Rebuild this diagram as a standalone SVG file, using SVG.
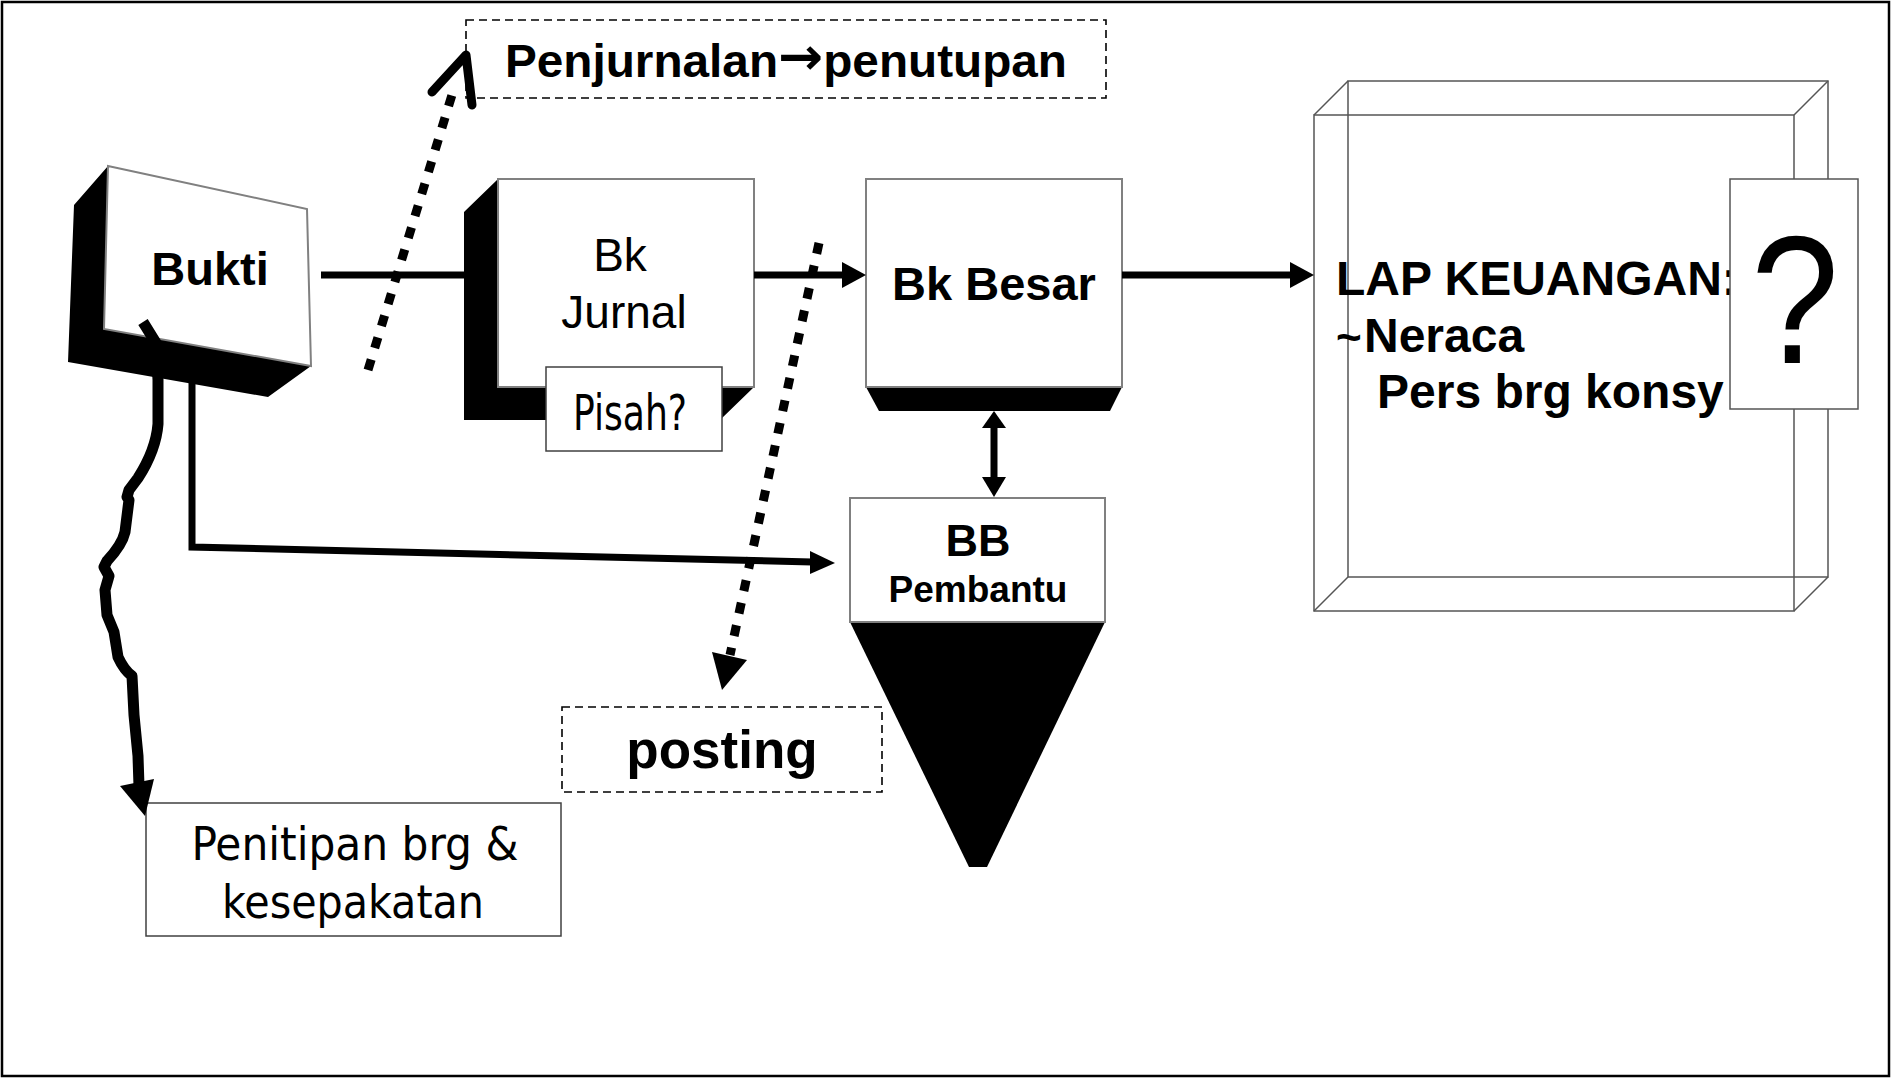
<svg xmlns="http://www.w3.org/2000/svg" width="1891" height="1078" viewBox="0 0 1891 1078">
<style>
.face{fill:#fff;stroke:#808080;stroke-width:2}
.box{fill:#fff;stroke:#404040;stroke-width:1.5}
.dash{fill:#fff;stroke:#000;stroke-width:1.6;stroke-dasharray:8 5}
.blk{fill:#000}
.wire{fill:none;stroke:#555;stroke-width:1.5}
.b{font-family:"Liberation Sans",Arial,sans-serif;font-weight:bold;fill:#000}
.r{font-family:"Liberation Sans",Arial,sans-serif;fill:#000}
.t{font-family:"DejaVu Sans Condensed","DejaVu Sans",sans-serif;fill:#000}
.ln{fill:none;stroke:#000;stroke-width:7}
.dot{fill:none;stroke:#000;stroke-width:9;stroke-dasharray:11 12}
</style>
<rect x="2" y="2" width="1887" height="1074" fill="#fff" stroke="#000" stroke-width="2.5"/>

<g id="penjurnalan">
<rect class="dash" x="466" y="20" width="640" height="78"/>
<text class="b" x="786" y="77" font-size="46" text-anchor="middle" textLength="562" lengthAdjust="spacingAndGlyphs">Penjurnalan<tspan font-family="DejaVu Sans,sans-serif" font-size="52" dy="-3">→</tspan><tspan dy="3">penutupan</tspan></text>
</g>

<g id="bukti">
<polygon class="blk" points="108,166 74,205 68,362 268,397 311,366 104,329"/>
<polygon class="face" points="108,166 307,209 311,366 104,329"/>
<text class="b" x="210" y="285" font-size="47" text-anchor="middle">Bukti</text>
</g>

<g id="bk-jurnal">
<polygon class="blk" points="498,179 464,212 464,420 720,420 754,387 498,387"/>
<rect class="face" x="498" y="179" width="256" height="208"/>
<text class="r" x="620" y="271" font-size="46" text-anchor="middle">Bk</text>
<text class="r" x="624" y="328" font-size="46" text-anchor="middle">Jurnal</text>
</g>

<g id="pisah">
<rect class="box" x="546" y="367" width="176" height="84"/>
<text class="t" x="630" y="430" font-size="50" text-anchor="middle" textLength="114" lengthAdjust="spacingAndGlyphs">Pisah?</text>
</g>

<g id="bk-besar">
<polygon class="blk" points="866,387 1122,387 1110,411 879,411"/>
<rect class="face" x="866" y="179" width="256" height="208"/>
<text class="b" x="994" y="300" font-size="47" text-anchor="middle">Bk Besar</text>
</g>

<g id="bb-pembantu">
<polygon class="blk" points="850,622 1105,622 987,867 969,867"/>
<rect class="face" x="850" y="498" width="255" height="124"/>
<text class="b" x="978" y="556" font-size="45" text-anchor="middle">BB</text>
<text class="b" x="978" y="602" font-size="37" text-anchor="middle">Pembantu</text>
</g>

<g id="lap-keuangan">
<rect class="wire" x="1348" y="81" width="480" height="496"/>
<rect class="wire" x="1314" y="115" width="480" height="496"/>
<path class="wire" d="M1314,115 L1348,81 M1794,115 L1828,81 M1794,611 L1828,577 M1314,611 L1348,577"/>
<text class="b" x="1336" y="295" font-size="48">LAP KEUANGAN:</text>
<text class="b" x="1336" y="352" font-size="44">~</text>
<text class="b" x="1364" y="352" font-size="48">Neraca</text>
<text class="b" x="1377" y="408" font-size="48">Pers brg konsy</text>
<rect x="1730" y="179" width="128" height="230" fill="#fff" stroke="#555" stroke-width="1.5"/>
<text class="r" x="1795" y="363" font-size="182" text-anchor="middle" textLength="88" lengthAdjust="spacingAndGlyphs">?</text>
</g>

<g id="posting">
<rect class="dash" x="562" y="707" width="320" height="85"/>
<text class="b" x="722" y="768" font-size="53" text-anchor="middle">posting</text>
</g>

<g id="penitipan">
<rect class="box" x="146" y="803" width="415" height="133"/>
<text class="t" x="355" y="860" font-size="46" text-anchor="middle" textLength="327" lengthAdjust="spacingAndGlyphs">Penitipan brg &amp;</text>
<text class="t" x="353" y="918" font-size="46" text-anchor="middle" textLength="262" lengthAdjust="spacingAndGlyphs">kesepakatan</text>
</g>

<g id="connectors">
<path class="ln" d="M321,275 H464"/>
<path class="ln" d="M754,275 H844"/>
<polygon points="842,262 866,275 842,288"/>
<path class="ln" d="M1122,275 H1292"/>
<polygon points="1290,262 1314,275 1290,288"/>
<path class="ln" d="M994,425 V480"/>
<polygon points="982,428 994,411 1006,428"/>
<polygon points="982,477 994,497 1006,477"/>
<path class="ln" stroke-width="6" d="M192,380 V547 L812,562"/>
<polygon points="810,551 835,563 810,574"/>
<path fill="none" stroke="#000" stroke-width="11" stroke-linejoin="round" d="M143,322 L156,343 L158,380 L158,424 Q156,450 138,478 L129,490 L127,497 L129,500 L125,532 Q122,545 107,561 L104,567 L109,576 L105,590 L107,615 L114,632 L118,657 Q124,670 132,676 L134,715 L138,756 L139,786"/>
<polygon points="120,786 154,779 145,816"/>
<path class="dot" d="M368,370 L455,85"/>
<polyline points="432,92 466,55 472,105" fill="none" stroke="#000" stroke-width="9" stroke-linecap="round" stroke-linejoin="round"/>
<path class="dot" d="M819,243 L730,655"/>
<polygon points="712,652 747,660 722,690"/>
</g>
</svg>
